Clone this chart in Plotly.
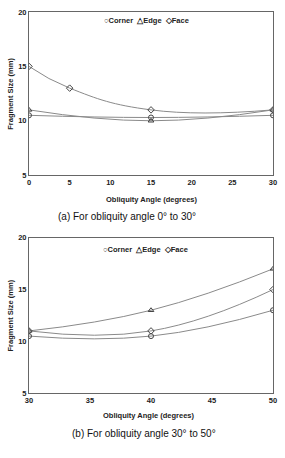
import plotly.graph_objects as go

# Chart (a): obliquity 0-30
a_corner_x = [0, 15, 30]
a_corner_y = [10.5, 10.3, 10.5]
a_edge_x = [0, 15, 30]
a_edge_y = [11.0, 10.0, 11.0]
a_face_x = [0, 5, 15, 30]
a_face_y = [15.0, 13.0, 11.0, 11.0]

# Chart (b): obliquity 30-50
b_x = [30, 40, 50]
b_corner_y = [10.5, 10.5, 13.0]
b_edge_y = [11.0, 13.0, 17.0]
b_face_y = [11.0, 11.0, 15.0]

a_ticks = [0, 5, 10, 15, 20, 25, 30]
b_ticks = [30, 35, 40, 45, 50]
y_ticks = [5, 10, 15, 20]

LINE = "#8a8a8a"
MK = "#444444"
FONT = "Liberation Sans"

fig = go.Figure()

def add(x, y, sym, xa, ya):
    fig.add_trace(go.Scatter(
        x=x, y=y, mode="lines+markers", xaxis=xa, yaxis=ya,
        line=dict(color=LINE, width=1, shape="spline", smoothing=1.3),
        marker=dict(symbol=sym, size=5, color=MK, line=dict(width=1, color=MK)),
        showlegend=False))

add(a_corner_x, a_corner_y, "circle-open", "x", "y")
add(a_edge_x, a_edge_y, "triangle-up-open", "x", "y")
add(a_face_x, a_face_y, "diamond-open", "x", "y")
add(b_x, b_corner_y, "circle-open", "x2", "y2")
add(b_x, b_edge_y, "triangle-up-open", "x2", "y2")
add(b_x, b_face_y, "diamond-open", "x2", "y2")

axfont = dict(family=FONT, size=7.5, color="#222", weight="bold")
common = dict(showgrid=False, zeroline=False, showline=True, mirror=True,
              linecolor="#666", linewidth=1, ticks="", tickfont=axfont)

fig.update_layout(
    width=285, height=458,
    margin=dict(l=29, r=8, t=10, b=65),
    paper_bgcolor="white", plot_bgcolor="white",
    xaxis=dict(domain=[0, 1], anchor="y", range=[0, 30], tickvals=a_ticks, **common),
    yaxis=dict(domain=[0.5718, 1], anchor="x", range=[5, 20], tickvals=y_ticks, **common),
    xaxis2=dict(domain=[0, 1], anchor="y2", range=[30, 50], tickvals=b_ticks, **common),
    yaxis2=dict(domain=[0, 0.4073], anchor="x2", range=[5, 20], tickvals=y_ticks, **common),
)

bold = dict(family=FONT, size=7.5, color="#222")
legend_text = "<b>○Corner  △Edge  ◇Face</b>"
anns = [
    dict(text=legend_text, x=0.48, y=0.979, font=bold),
    dict(text=legend_text, x=0.476, y=0.376, font=bold),
    dict(text="<b>Obliquity Angle (degrees)</b>", x=0.5, y=0.509, font=bold),
    dict(text="<b>Obliquity Angle (degrees)</b>", x=0.49, y=-0.060, font=bold),
    dict(text="<b>Fragment Size (mm)</b>", x=-0.077, y=0.786, font=bold, textangle=-90),
    dict(text="<b>Fragment Size (mm)</b>", x=-0.077, y=0.204, font=bold, textangle=-90),
    dict(text="(a) For obliquity angle 0° to 30°", x=0.403, y=0.462,
         font=dict(family=FONT, size=10, color="#111")),
    dict(text="(b) For obliquity angle 30° to 50°", x=0.472, y=-0.107,
         font=dict(family=FONT, size=10, color="#111")),
]
for a in anns:
    fig.add_annotation(xref="paper", yref="paper", showarrow=False,
                       xanchor="center", yanchor="middle", **a)

fig.write_html("out.html")
